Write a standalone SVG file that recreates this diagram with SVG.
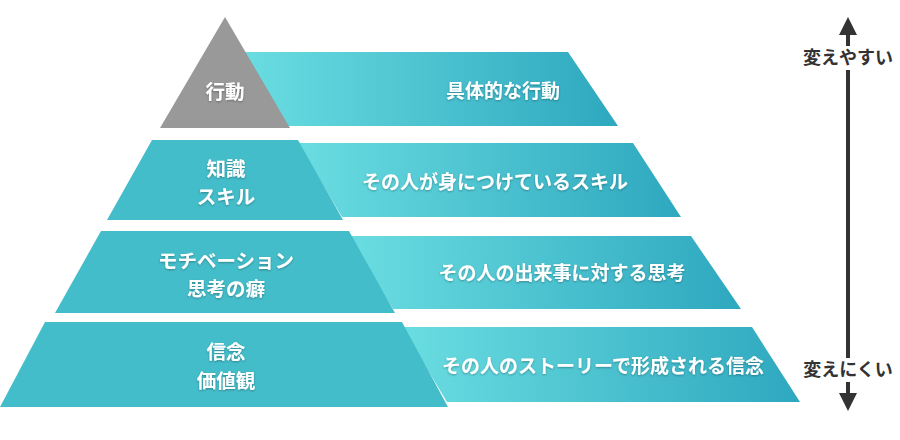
<svg xmlns="http://www.w3.org/2000/svg" width="900" height="440" viewBox="0 0 900 440">
<style>
.lvl{fill:#44bdca}
.band{fill:url(#g)}
.t{font-family:"Noto Sans CJK JP","Noto Sans",sans-serif;font-weight:bold;font-size:19px;fill:#fff;text-anchor:middle;filter:url(#sh)}
.l{font-size:19.5px}
.side{font-family:"Noto Sans CJK JP","Noto Sans",sans-serif;font-weight:bold;font-size:18px;fill:#333;text-anchor:middle}
</style>
<defs>
<linearGradient id="g" x1="0" y1="0" x2="1" y2="0">
<stop offset="0" stop-color="#6adde1"/>
<stop offset="1" stop-color="#2ea8bf"/>
</linearGradient>
<filter id="sh" x="-20%" y="-40%" width="140%" height="180%">
<feDropShadow dx="0" dy="1" stdDeviation="1.2" flood-color="#000" flood-opacity="0.3"/>
</filter>
<marker id="ah" viewBox="0 0 10 10" refX="5" refY="5" markerWidth="4.5" markerHeight="4.5" orient="auto-start-reverse" markerUnits="strokeWidth">
<path d="M0,0 L10,5 L0,10 z" fill="#333"/>
</marker>
</defs>

<g id="band1"><polygon class="band" points="244,52 568,52 618,126 288,126"/><text class="t" x="503" y="98">具体的な行動</text></g>
<g id="level1"><polygon fill="#999999" points="225,17 290,128 160,128"/><text class="t l" x="225" y="99">行動</text></g>

<g id="band2"><polygon class="band" points="298,143 633,143 681,217 342,217"/><text class="t" x="495" y="189">その人が身につけているスキル</text></g>
<g id="level2"><polygon class="lvl" points="152,140 298,140 343,220 107,220"/><text class="t l" x="226" y="176">知識</text><text class="t l" x="226" y="204">スキル</text></g>

<g id="band3"><polygon class="band" points="349,236 691,236 741,309 393,309"/><text class="t" x="562" y="280">その人の出来事に対する思考</text></g>
<g id="level3"><polygon class="lvl" points="101,231 349,231 395,313 55,313"/><text class="t l" x="226" y="268">モチベーション</text><text class="t l" x="226" y="296">思考の癖</text></g>

<g id="band4"><polygon class="band" points="402,327 752,327 800,402 447,402"/><text class="t" x="603" y="373">その人のストーリーで形成される信念</text></g>
<g id="level4"><polygon class="lvl" points="45,322 402,322 448,407 0,407"/><text class="t l" x="226" y="359">信念</text><text class="t l" x="226" y="388">価値観</text></g>

<g id="connectors">
<line x1="848" y1="26" x2="848" y2="402" stroke="#333" stroke-width="4" marker-start="url(#ah)" marker-end="url(#ah)"/>
</g>
<g id="label-top"><rect x="796" y="46" width="104" height="24" fill="#fff"/><text class="side" x="848" y="64">変えやすい</text></g>
<g id="label-bottom"><rect x="798" y="358" width="100" height="24" fill="#fff"/><text class="side" x="848" y="376">変えにくい</text></g>
</svg>
